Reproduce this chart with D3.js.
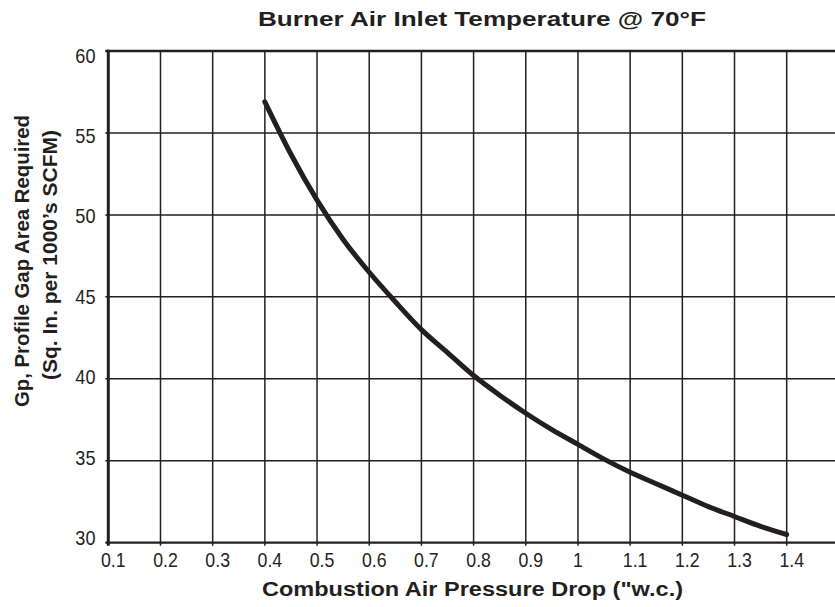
<!DOCTYPE html>
<html><head><meta charset="utf-8">
<script src="https://cdn.jsdelivr.net/npm/d3@7"></script>
<style>body{margin:0;background:#fff}svg{display:block}text{font-family:"Liberation Sans",Arial,sans-serif;fill:#231f20}</style>
</head><body><svg id="c" width="835" height="607"></svg>
<script>
const xTicks = [0.1,0.2,0.3,0.4,0.5,0.6,0.7,0.8,0.9,1.0,1.1,1.2,1.3,1.4];
const xTickLabels = ["0.1","0.2","0.3","0.4","0.5","0.6","0.7","0.8","0.9","1","1.1","1.2","1.3","1.4"];
const yTicks = [30,35,40,45,50,55,60];
const pressureDrop = [0.4,0.45,0.5,0.55,0.6,0.65,0.7,0.75,0.8,0.85,0.9,0.95,1.0,1.05,1.1,1.15,1.2,1.25,1.3,1.35,1.4];
const gapArea = [56.9,53.7,50.9,48.5,46.5,44.7,43.0,41.6,40.2,39.0,37.9,36.9,36.0,35.1,34.3,33.6,32.9,32.2,31.6,31.0,30.5];

const svg = d3.select("#c");
const x = d3.scaleLinear().domain([0.1,1.4]).range([108.3,786.7]);
const y = d3.scaleLinear().domain([30,60]).range([542.7,51]);
const yLab = d3.scaleLinear().domain([30,60]).range([537.5,55.3]);
const col = "#231f20";

// grid
svg.append("g").selectAll("line").data(xTicks.slice(1)).join("line")
  .attr("x1",d=>x(d)).attr("x2",d=>x(d)).attr("y1",y(60)).attr("y2",y(30)+3)
  .attr("stroke",col).attr("stroke-width",1.5);
svg.append("g").selectAll("line").data(yTicks.slice(1,-1)).join("line")
  .attr("x1",x(0.1)-3).attr("x2",835).attr("y1",d=>y(d)).attr("y2",d=>y(d))
  .attr("stroke",col).attr("stroke-width",1.5);
// frame
svg.append("line").attr("x1",x(0.1)-3).attr("x2",835).attr("y1",y(60)).attr("y2",y(60)).attr("stroke",col).attr("stroke-width",2.5);
svg.append("line").attr("x1",x(0.1)-3).attr("x2",835).attr("y1",y(30)).attr("y2",y(30)).attr("stroke",col).attr("stroke-width",2.2);
svg.append("line").attr("x1",x(0.1)).attr("x2",x(0.1)).attr("y1",y(60)-1.2).attr("y2",y(30)+3).attr("stroke",col).attr("stroke-width",3);

// tick labels (condensed)
svg.append("g").selectAll("text").data(xTicks).join("text")
  .attr("transform",(d,i)=>`translate(${x(d)+(xTickLabels[i].length>1?5:0)},567.3) scale(0.86,1)`)
  .attr("text-anchor","middle").attr("font-size",20.6)
  .text((d,i)=>xTickLabels[i]);
svg.append("g").selectAll("text").data(yTicks).join("text")
  .attr("transform",d=>`translate(95.5,${yLab(d)+7.4}) scale(0.87,1)`)
  .attr("text-anchor","end").attr("font-size",20.8)
  .text(d=>d);

// curve
svg.append("path").datum(pressureDrop.map((p,i)=>[p,gapArea[i]]))
  .attr("d",d3.line().x(d=>x(d[0])).y(d=>y(d[1])).curve(d3.curveMonotoneX))
  .attr("fill","none").attr("stroke",col).attr("stroke-width",5).attr("stroke-linecap","round");

// titles
svg.append("text").attr("x",482).attr("y",25.5).attr("text-anchor","middle")
  .attr("font-size",21).attr("font-weight","bold")
  .attr("textLength",448).attr("lengthAdjust","spacingAndGlyphs")
  .text("Burner Air Inlet Temperature @ 70°F");
svg.append("text").attr("x",472.5).attr("y",595.5).attr("text-anchor","middle")
  .attr("font-size",20).attr("font-weight","bold")
  .attr("textLength",421).attr("lengthAdjust","spacingAndGlyphs")
  .text("Combustion Air Pressure Drop (\"w.c.)");
const yl = svg.append("text").attr("transform","rotate(-90)")
  .attr("text-anchor","middle").attr("font-size",21).attr("font-weight","bold");
yl.append("tspan").attr("x",-261).attr("y",28.6)
  .attr("textLength",292).attr("lengthAdjust","spacingAndGlyphs").text("Gp, Profile Gap Area Required");
yl.append("tspan").attr("x",-255).attr("y",56.8)
  .attr("textLength",250).attr("lengthAdjust","spacingAndGlyphs").text("(Sq. In. per 1000’s SCFM)");
</script></body></html>
